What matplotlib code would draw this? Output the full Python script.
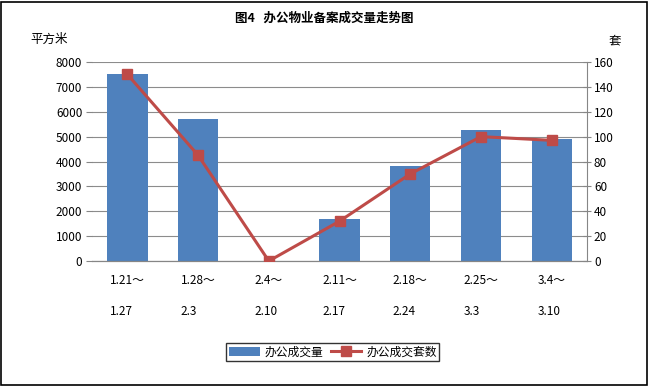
import matplotlib.pyplot as plt
from matplotlib.patches import Rectangle

plt.rcParams['font.family'] = ['Noto Sans CJK SC', 'DejaVu Sans']

# 数据
periods = ['1.21～\n\n1.27', '1.28～\n\n2.3', '2.4～\n\n2.10', '2.11～\n\n2.17',
           '2.18～\n\n2.24', '2.25～\n\n3.3', '3.4～\n\n3.10']
area = [7500, 5700, 0, 1700, 3800, 5250, 4900]
units = [150, 85, 0, 32, 70, 100, 97]

bar_color = '#4F81BD'
line_color = '#BE4B48'
axis_gray = '#868686'

fig = plt.figure(figsize=(6.49, 3.86), dpi=100, facecolor='white')
ax = fig.add_axes([0.1418, 0.3238, 0.7627, 0.5156])
ax2 = ax.twinx()

x = list(range(len(periods)))
ax.bar(x, area, width=0.57, color=bar_color, zorder=2, label='办公成交量')
ax2.plot(x, units, color=line_color, lw=2.2, marker='s', ms=6.5,
         zorder=3, label='办公成交套数')

ax.set_xlim(-0.5, len(periods) - 0.5)
ax.set_ylim(0, 8000)
ax.set_yticks(range(0, 8001, 1000))
ax2.set_ylim(0, 160)
ax2.set_yticks(range(0, 161, 20))

ax.grid(axis='y', color='#8c8c8c', lw=0.8, zorder=0)
ax.set_axisbelow(True)
ax.set_xticks(x)
ax.set_xticklabels(periods, fontsize=8.5, linespacing=1.25, multialignment='left')
ax.tick_params(axis='x', length=0, pad=9)
ax.tick_params(axis='y', length=4, color=axis_gray, labelsize=8.5, pad=3)
ax2.tick_params(axis='y', direction='inout', length=6, color=axis_gray,
                labelsize=8.5, pad=2)

for a in (ax, ax2):
    for side in ('top', 'left', 'right'):
        a.spines[side].set_visible(False)
    a.spines['bottom'].set_color(axis_gray)
ax2.spines['right'].set_visible(True)
ax2.spines['right'].set_color(axis_gray)

fig.text(0.5, 0.953, '图4   办公物业备案成交量走势图', ha='center', va='center',
         fontsize=9, fontweight='bold')
fig.text(0.046, 0.898, '平方米', ha='left', va='center', fontsize=9)
fig.text(0.937, 0.893, '套', ha='left', va='center', fontsize=9)

h1, l1 = ax.get_legend_handles_labels()
h2, l2 = ax2.get_legend_handles_labels()
fig.legend(h1 + h2, l1 + l2, loc='center', bbox_to_anchor=(0.513, 0.088),
           ncol=2, fontsize=8.5, frameon=True, fancybox=False,
           edgecolor='black', handlelength=2.6, columnspacing=0.6,
           handletextpad=0.4, borderpad=0.25)

fig.add_artist(Rectangle((0.002, 0.003), 0.995, 0.993, transform=fig.transFigure,
                         fill=False, edgecolor='black', lw=1.2))

fig.savefig('out.png', dpi=100)
